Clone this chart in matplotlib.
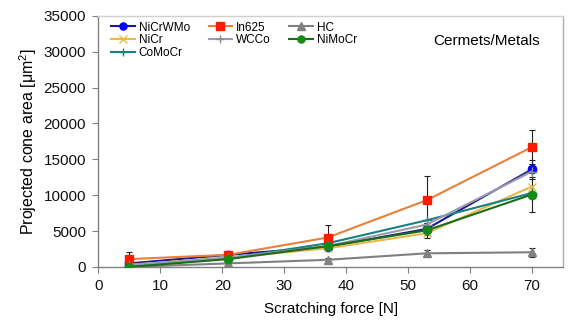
import matplotlib
matplotlib.use("Agg")
import matplotlib.pyplot as plt

plt.rcParams['font.family'] = ['Liberation Sans', 'DejaVu Sans']

force = [5, 21, 37, 53, 70]

nicrwmo = [500, 1700, 2800, 5300, 13600]
nicr = [300, 1300, 2600, 4700, 11200]
comocr = [100, 1200, 3300, 6500, 10300]
in625 = [1100, 1700, 4100, 9300, 16700]
wcco = [300, 1300, 2900, 5900, 13300]
hc = [0, 500, 1000, 1900, 2050]
nimocr = [0, 1100, 2900, 5100, 10100]

in625_err = [1000, 300, 1700, 3400, 2400]
nicrwmo_err = [300, 300, 500, 800, 1300]
nimocr_err = [200, 300, 600, 1000, 2500]
hc_err = [100, 150, 300, 400, 600]

fig = plt.figure(figsize=(5.76, 3.30), dpi=100)
ax = fig.add_axes([0.171, 0.191, 0.806, 0.761])

series = [
    ("NiCrWMo", nicrwmo, nicrwmo_err, "#1a1a8c", "o", "#0000ff", 6),
    ("NiCr", nicr, None, "#e8b84a", "x", "#e8b84a", 6),
    ("CoMoCr", comocr, None, "#1a8080", "+", "#1a8080", 7),
    ("In625", in625, in625_err, "#e8803a", "s", "#ff1a00", 6),
    ("WCCo", wcco, None, "#9a9ab0", "+", "#8a8a8a", 7),
    ("HC", hc, hc_err, "#808080", "^", "#808080", 6),
    ("NiMoCr", nimocr, nimocr_err, "#1a6e1a", "o", "#138a13", 6),
]

for name, vals, err, lc, mk, mc, ms in series:
    if err is not None:
        ax.errorbar(force, vals, yerr=err, fmt="none", ecolor="#222222",
                    elinewidth=0.8, capsize=2.5, capthick=0.8, zorder=2)
    ax.plot(force, vals, color=lc, lw=1.5, marker=mk, markersize=ms,
            markerfacecolor=mc, markeredgecolor=mc, label=name, zorder=3)

ax.set_xlim(0, 75)
ax.set_ylim(0, 35000)
ax.set_xticks(range(0, 71, 10))
ax.set_yticks(range(0, 35001, 5000))
ax.tick_params(direction="out", length=4, color="#808080", labelsize=11,
               pad=5, labelcolor="#111111")
for s in ax.spines.values():
    s.set_color("#808080")
    s.set_linewidth(1.0)
ax.spines["top"].set_color("#d0d0d0")
ax.spines["right"].set_color("#b0b0b0")

ax.set_xlabel("Scratching force [N]", fontsize=11, labelpad=6)
ax.set_ylabel("Projected cone area [$\\mathregular{\\mu m^2}$]", fontsize=11.5,
              labelpad=3)

ax.text(0.95, 0.9, "Cermets/Metals", transform=ax.transAxes, ha="right",
        va="center", fontsize=11)

ax.legend(loc="upper left", ncol=3, frameon=False, fontsize=8.5,
          bbox_to_anchor=(0.01, 1.01), handlelength=2.0, handletextpad=0.3,
          columnspacing=1.6, labelspacing=0.05, borderaxespad=0.3,
          markerscale=0.85)

fig.savefig("out.png", dpi=100)
